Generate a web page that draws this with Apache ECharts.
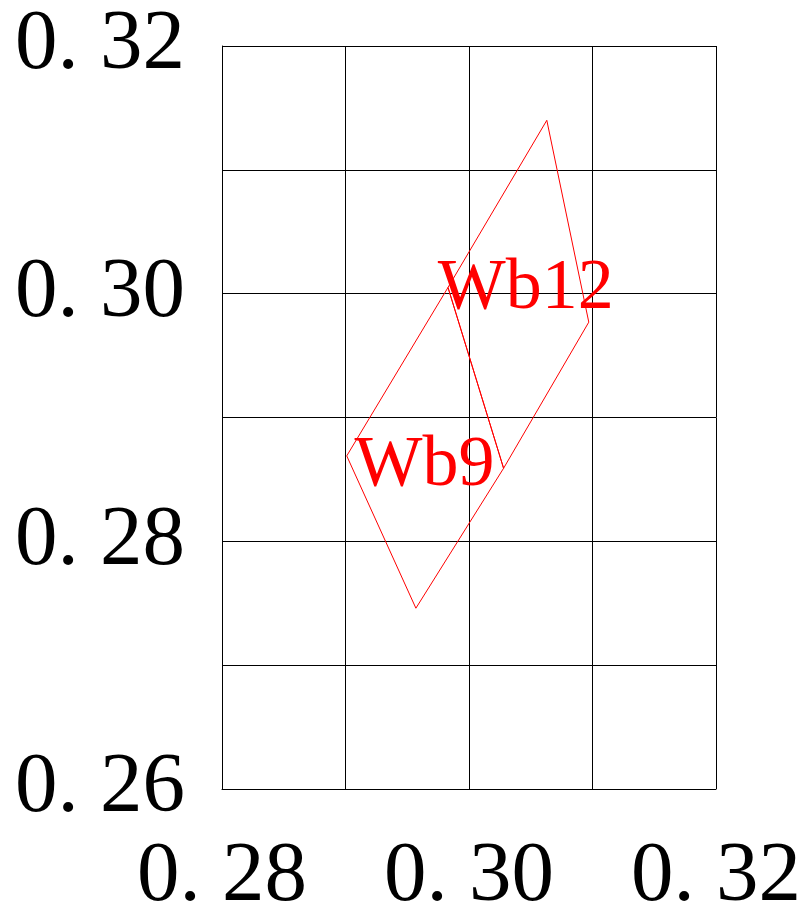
<!DOCTYPE html>
<html>
<head>
<meta charset="utf-8">
<style>html,body{margin:0;padding:0;background:#fff}#c{width:800px;height:910px}</style>
<script src="https://cdn.jsdelivr.net/npm/echarts@6/dist/echarts.min.js"></script>
</head>
<body>
<div id="c"></div>
<script>
// Bin names
const binNames = ['Wb9', 'Wb12'];
// Vertex coordinates (CIE x, y) of each bin quadrilateral
const wb9X = [0.2901, 0.2983, 0.3028, 0.2957];
const wb9Y = [0.2869, 0.3005, 0.2859, 0.2746];
const wb12X = [0.2983, 0.3063, 0.3097, 0.3028];
const wb12Y = [0.3005, 0.3140, 0.2977, 0.2859];
// Label anchor points (data coordinates) for each bin name
const labelX = [0.2964, 0.3046];
const labelY = [0.2861, 0.3004];
// Tick labels
const xTickValues = [0.28, 0.30, 0.32];
const xTickLabels = ['0. 28', '0. 30', '0. 32'];
const yTickValues = [0.26, 0.28, 0.30, 0.32];
const yTickLabels = ['0. 26', '0. 28', '0. 30', '0. 32'];

const FONT = '"Liberation Serif", "DejaVu Serif", serif';

function poly(xs, ys) {
  const pts = xs.map((x, i) => [x, ys[i]]);
  pts.push(pts[0]);
  return pts;
}
function tickFmt(values, labels) {
  return function (v) {
    for (let i = 0; i < values.length; i++) {
      if (Math.abs(values[i] - v) < 1e-6) return labels[i];
    }
    return '';
  };
}

const shapes = [[wb9X, wb9Y], [wb12X, wb12Y]];
const series = [];
shapes.forEach((s, i) => {
  series.push({
    type: 'line',
    name: binNames[i],
    data: poly(s[0], s[1]),
    symbol: 'none',
    lineStyle: { color: '#ff0000', width: 1 },
    silent: true,
    animation: false
  });
});
series.push({
  type: 'scatter',
  symbolSize: 0,
  itemStyle: { opacity: 1 },
  data: binNames.map((n, i) => ({ value: [labelX[i], labelY[i]], name: n })),
  label: {
    show: true,
    position: 'inside',
    formatter: p => p.name,
    color: '#ff0000',
    opacity: 1,
    fontFamily: FONT,
    fontSize: 72
  },
  silent: true,
  animation: false
});

const chart = echarts.init(document.getElementById('c'), null, { renderer: 'canvas' });
chart.setOption({
  backgroundColor: '#ffffff',
  animation: false,
  grid: { left: 222, right: 84, top: 46, bottom: 121, containLabel: false, outerBoundsMode: 'none' },
  xAxis: {
    type: 'value', min: 0.28, max: 0.32, interval: 0.01,
    axisLine: { show: true, lineStyle: { color: '#000', width: 1 } },
    axisTick: { show: false },
    splitLine: { show: true, lineStyle: { color: '#000', width: 1 } },
    axisLabel: { formatter: tickFmt(xTickValues, xTickLabels), color: '#000', fontFamily: FONT, fontSize: 85, margin: 46 }
  },
  yAxis: {
    type: 'value', min: 0.26, max: 0.32, interval: 0.01,
    axisLine: { show: true, lineStyle: { color: '#000', width: 1 } },
    axisTick: { show: false },
    splitLine: { show: true, lineStyle: { color: '#000', width: 1 } },
    axisLabel: { formatter: tickFmt(yTickValues, yTickLabels), color: '#000', fontFamily: FONT, fontSize: 85, margin: 37 }
  },
  series: series
});
</script>
</body>
</html>
